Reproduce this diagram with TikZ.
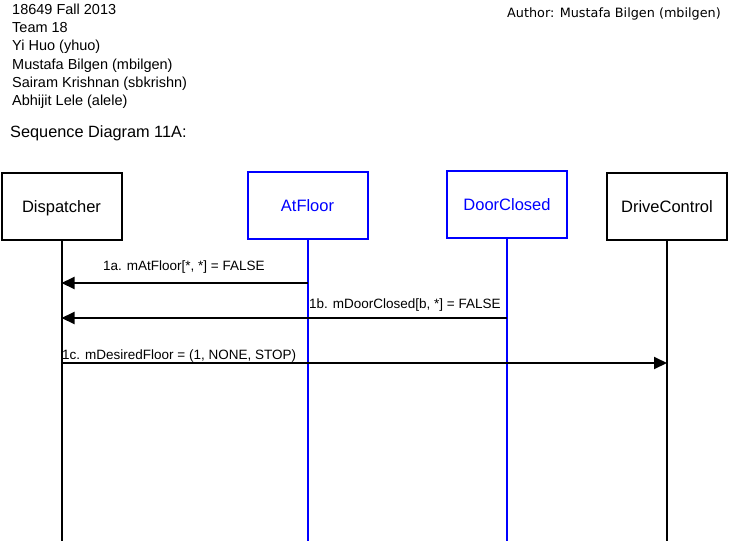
\documentclass[tikz,border=0pt]{standalone}
\usepackage{fontspec}
\setmainfont{Liberation Sans}
\newfontfamily\authorfont{DejaVu Sans}
\usetikzlibrary{arrows.meta, positioning}

\begin{document}
\begin{tikzpicture}[
    obj/.style={draw, line width=2pt, minimum width=120pt, minimum height=67pt, text height=12pt, text depth=0pt,
                font=\fontsize{16.5}{18}\selectfont},
    net/.style={draw=blue, text=blue},
    life/.style={line width=2pt},
    msg/.style={line width=2pt, -{Triangle[length=13pt, width=12pt]}},
    lbl/.style={anchor=base west, inner sep=0pt, font=\fontsize{13.5}{16}\selectfont},
    hdr/.style={anchor=base west, inner sep=0pt, font=\fontsize{14.5}{18}\selectfont},
    x=1pt, y=-1pt
]
    \useasboundingbox (0,0) rectangle (729,541);

    % header lines, baselines 18.3px apart
    \node[hdr] (course) at (12,14)    {18649 Fall 2013};
    \node[hdr] (team)   at (12,32.3)  {Team 18};
    \node[hdr] (yhuo)   at (12,50.6)  {Yi Huo (yhuo)};
    \node[hdr] (mbil)   at (12,69)    {Mustafa Bilgen (mbilgen)};
    \node[hdr] (sbk)    at (12,87.3)  {Sairam Krishnan (sbkrishn)};
    \node[hdr] (alele)  at (12,105.6) {Abhijit Lele (alele)};

    \node[anchor=base east, inner sep=0pt, font=\authorfont\fontsize{12.8}{15}\selectfont] (author) at (721,17)
        {Author: Mustafa Bilgen (mbilgen)};
    \node[anchor=base west, inner sep=0pt, font=\fontsize{16.3}{19}\selectfont] (title) at (10,137)
        {Sequence Diagram 11A:};

    % objects, each box 120 wide, lifelines run to the bottom edge
    \node[obj] (disp) at (61.5,206.5) {Dispatcher};
    \node[obj, net] (atf) at (307.5,205.5) {AtFloor};       % network message
    \node[obj, net] (dc)  at (507,204.5)   {DoorClosed};    % network message
    \node[obj] (drv) at (667,206) {DriveControl};

    \coordinate (bottom) at (0,541);
    \draw[life] (disp.south) -- (disp.south |- bottom);
    \draw[life, blue] (atf.south) -- (atf.south |- bottom);
    \draw[life, blue] (dc.south) -- (dc.south |- bottom);
    \draw[life] (drv.south) -- (drv.south |- bottom);

    % messages
    \coordinate (m1a) at (0,283);
    \coordinate (m1b) at (0,318);
    \coordinate (m1c) at (0,363);
    \draw[msg] (atf.south |- m1a) -- (disp.south |- m1a);
    \draw[msg] (dc.south |- m1b) -- (disp.south |- m1b);
    \draw[msg] (disp.south |- m1c) -- (drv.south |- m1c);

    \node[lbl] (t1a) at (103,270) {1a. mAtFloor[*, *] = FALSE};
    \node[lbl] (t1b) at (309,308) {1b. mDoorClosed[b, *] = FALSE};
    \node[lbl] (t1c) at (62,359)  {1c. mDesiredFloor = (1, NONE, STOP)};
\end{tikzpicture}
\end{document}
